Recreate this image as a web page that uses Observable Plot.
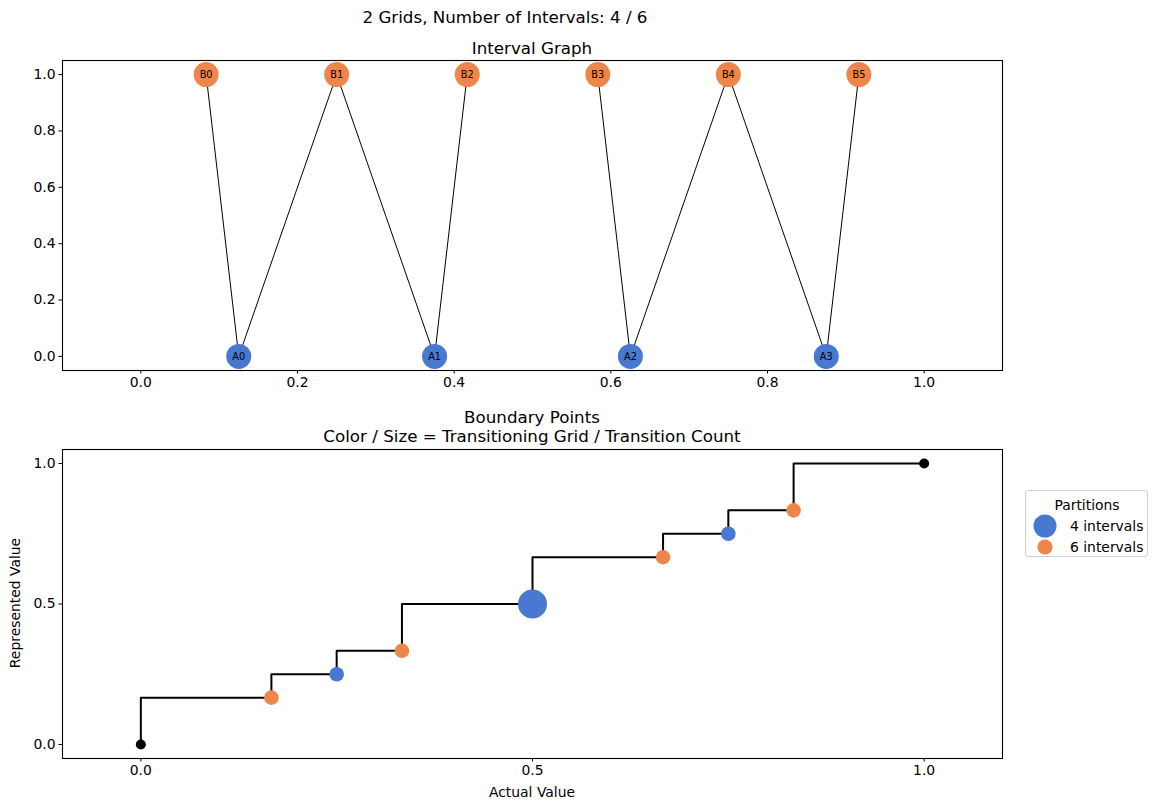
<!DOCTYPE html>
<html>
<head>
<meta charset="utf-8">
<script src="https://cdn.jsdelivr.net/npm/d3@7"></script>
<script src="https://cdn.jsdelivr.net/npm/@observablehq/plot@0.6"></script>
<style>
  html, body { margin: 0; padding: 0; background: white; }
  #fig { position: relative; width: 1158px; height: 811px; font-family: "DejaVu Sans", sans-serif; color: black; overflow: hidden; }
  .lbl { position: absolute; white-space: nowrap; transform: translate(-50%, -50%); line-height: 1; }
  #legend { position: absolute; left: 1025px; top: 490px; width: 121px; height: 65px; border: 1px solid #d0d0d0; border-radius: 3px; background: white; font-size: 13.9px; }
</style>
</head>
<body>
<div id="fig"></div>
<script>
// ---- Data ----
const suptitle = "2 Grids, Number of Intervals: 4 / 6";
const topTitle = "Interval Graph";
const bottomTitle = ["Boundary Points", "Color / Size = Transitioning Grid / Transition Count"];

const aLabels = ["A0", "A1", "A2", "A3"];
const aX = [0.125, 0.375, 0.625, 0.875];
const bLabels = ["B0", "B1", "B2", "B3", "B4", "B5"];
const bX = [1/12, 3/12, 5/12, 7/12, 9/12, 11/12];
const edges = [["B0","A0"],["A0","B1"],["B1","A1"],["A1","B2"],["B3","A2"],["A2","B4"],["B4","A3"],["A3","B5"]];

const topXTicks = [0, 0.2, 0.4, 0.6, 0.8, 1.0];
const topYTicks = [0, 0.2, 0.4, 0.6, 0.8, 1.0];

const boundaries = [0, 1/6, 1/4, 1/3, 1/2, 2/3, 3/4, 5/6, 1];
const grids = ["end", "6 intervals", "4 intervals", "6 intervals", "4 intervals", "6 intervals", "4 intervals", "6 intervals", "end"];
const counts = [0, 1, 1, 1, 2, 1, 1, 1, 0];
const bottomTicks = [0, 0.5, 1.0];

const legendTitle = "Partitions";
const legendItems = ["4 intervals", "6 intervals"];
const colors = {"4 intervals": "#4878d0", "6 intervals": "#ee854a"};

// ---- Build ----
const fig = document.getElementById("fig");
const baseStyle = {fontFamily: "DejaVu Sans, sans-serif", fontSize: "13.9px", color: "black", background: "white", overflow: "visible"};
const fmt = d3.format(".1f");

const nodes = [
  ...aLabels.map((l, i) => ({label: l, x: aX[i], y: 0, grid: "4 intervals"})),
  ...bLabels.map((l, i) => ({label: l, x: bX[i], y: 1, grid: "6 intervals"}))
];
const byLabel = new Map(nodes.map(n => [n.label, n]));
const links = edges.map(([s, t]) => ({s: byLabel.get(s), t: byLabel.get(t)}));

const topPlot = Plot.plot({
  width: 1158, height: 400,
  marginLeft: 62, marginRight: 156, marginTop: 60, marginBottom: 30,
  style: baseStyle,
  x: {domain: [-0.1, 1.1], ticks: topXTicks, tickFormat: fmt, tickSize: 3.5, tickPadding: 3.5, label: null},
  y: {domain: [-0.05, 1.05], ticks: topYTicks, tickFormat: fmt, tickSize: 3.5, tickPadding: 3.5, label: null},
  color: {domain: Object.keys(colors), range: Object.values(colors)},
  marks: [
    Plot.link(links, {x1: d => d.s.x, y1: d => d.s.y, x2: d => d.t.x, y2: d => d.t.y, stroke: "black", strokeWidth: 1}),
    Plot.dot(nodes, {x: "x", y: "y", fill: "grid", r: 12.5, stroke: "none"}),
    Plot.text(nodes, {x: "x", y: "y", text: "label", fill: "black", fontSize: 9.7}),
    Plot.frame({stroke: "black", strokeWidth: 1.1})
  ]
});
topPlot.style.position = "absolute"; topPlot.style.left = "0px"; topPlot.style.top = "0px";
fig.appendChild(topPlot);

const pts = boundaries.map((b, i) => ({x: b, y: b, grid: grids[i], count: counts[i]}));
const trans = pts.filter(d => d.grid !== "end");
const ends = pts.filter(d => d.grid === "end");

const bottomPlot = Plot.plot({
  width: 1158, height: 411,
  marginLeft: 62, marginRight: 156, marginTop: 49, marginBottom: 53,
  style: baseStyle,
  x: {domain: [-0.1, 1.1], ticks: bottomTicks, tickFormat: fmt, tickSize: 3.5, tickPadding: 3.5, label: null},
  y: {domain: [-0.05, 1.05], ticks: bottomTicks, tickFormat: fmt, tickSize: 3.5, tickPadding: 3.5, label: null},
  color: {domain: Object.keys(colors), range: Object.values(colors)},
  r: {type: "linear", domain: [1, 2], range: [7.3, 14.5]},
  marks: [
    Plot.line(pts, {x: "x", y: "y", curve: "step-before", stroke: "black", strokeWidth: 2}),
    Plot.dot(ends, {x: "x", y: "y", r: 5, fill: "black"}),
    Plot.dot(trans, {x: "x", y: "y", r: "count", fill: "grid", stroke: "none"}),
    Plot.frame({stroke: "black", strokeWidth: 1.1})
  ]
});
bottomPlot.style.position = "absolute"; bottomPlot.style.left = "0px"; bottomPlot.style.top = "400px";
fig.appendChild(bottomPlot);

function addLabel(text, x, y, size, rotate) {
  const d = document.createElement("div");
  d.className = "lbl";
  d.textContent = text;
  d.style.left = x + "px"; d.style.top = y + "px"; d.style.fontSize = size + "px";
  if (rotate) d.style.transform = "translate(-50%, -50%) rotate(-90deg)";
  fig.appendChild(d);
}
addLabel(suptitle, 505, 17, 16.7);
addLabel(topTitle, 532, 48, 16.7);
addLabel(bottomTitle[0], 532, 417, 16.7);
addLabel(bottomTitle[1], 532, 436, 16.7);
addLabel("Actual Value", 532, 793, 13.9);
addLabel("Represented Value", 16, 603, 13.9, true);

// Legend
const lg = document.createElement("div");
lg.id = "legend";
const ls = d3.select(lg).append("svg").attr("width", 121).attr("height", 65).style("font-family", "DejaVu Sans, sans-serif");
ls.append("text").attr("x", 61).attr("y", 19).attr("text-anchor", "middle").attr("font-size", 13.9).text(legendTitle);
const legendR = [11.5, 7.6];
legendItems.forEach((it, i) => {
  const cy = 35 + i * 21;
  ls.append("circle").attr("cx", 19).attr("cy", cy).attr("r", legendR[i]).attr("fill", colors[it]);
  ls.append("text").attr("x", 44).attr("y", cy).attr("dy", "0.35em").attr("font-size", 13.9).text(it);
});
fig.appendChild(lg);
</script>
</body>
</html>
